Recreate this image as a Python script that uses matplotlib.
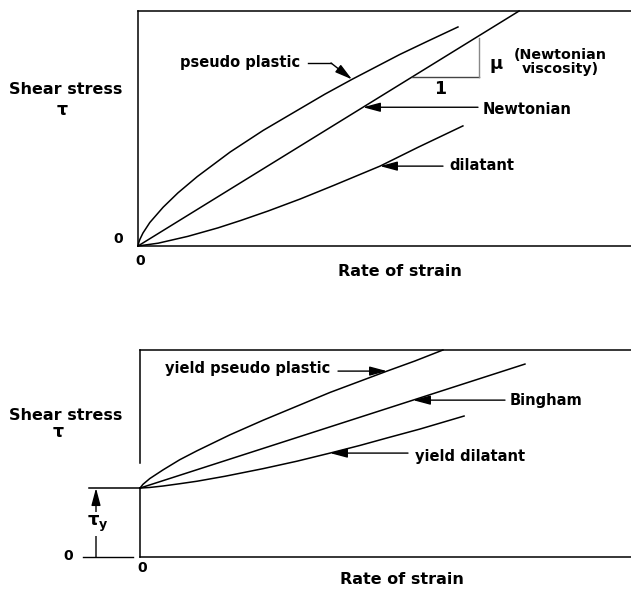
import numpy as np
from matplotlib import pyplot as plt
from matplotlib.lines import Line2D

# top chart: rate of strain vs shear stress (no yield)
rate_pseudo = [0, 0.02, 0.04, 0.10, 0.24, 0.51, 0.81, 1.20, 1.87, 2.54, 3.23, 3.79, 4.34, 5.31, 5.88, 6.49]
stress_pseudo = [0, 0.18, 0.29, 0.55, 1.00, 1.65, 2.26, 2.95, 4.00, 4.92, 5.77, 6.46, 7.09, 8.15, 8.72, 9.32]
rate_newton = [0, 7.73]
stress_newton = [0, 10.0]
rate_dilatant = [0, 0.41, 1.01, 1.62, 2.09, 2.64, 3.29, 3.96, 4.91, 5.68, 6.59]
stress_dilatant = [0, 0.12, 0.41, 0.77, 1.09, 1.49, 2.00, 2.57, 3.40, 4.20, 5.11]

# bottom chart: fluids with a yield stress
tau_yield = 3.33
rate_ypseudo = [0, 0.06, 0.20, 0.47, 0.81, 1.16, 1.83, 2.51, 3.20, 3.87, 5.03, 5.60, 6.17]
stress_ypseudo = [3.33, 3.51, 3.79, 4.21, 4.70, 5.13, 5.90, 6.61, 7.29, 7.95, 8.98, 9.47, 10.0]
rate_bingham = [0, 7.84]
stress_bingham = [3.33, 9.32]
rate_ydilatant = [0, 0.20, 0.47, 0.81, 1.16, 1.73, 2.51, 3.20, 3.87, 4.48, 5.03, 5.70, 6.60]
stress_ydilatant = [3.33, 3.36, 3.43, 3.54, 3.66, 3.90, 4.27, 4.63, 5.02, 5.39, 5.75, 6.18, 6.81]

W, H = 631, 589
BOLD = dict(fontweight='bold', family='DejaVu Sans', color='black')
ARROW = dict(arrowstyle='-|>,head_length=0.75,head_width=0.2',
             mutation_scale=14, lw=1.0, color='black', shrinkA=0, shrinkB=0)


def fx(px):
    return px / W


def fy(py):
    return 1 - py / H


def label(fig, px, py, s, size=10.5, ha='center', **kw):
    return fig.text(fx(px), fy(py), s, ha=ha, va='center', fontsize=size, **BOLD, **kw)


def setup_axes(ax):
    ax.set_xlim(0, 10)
    ax.set_ylim(0, 10)
    ax.set_xticks([])
    ax.set_yticks([])
    ax.spines['right'].set_visible(False)
    for s in ['left', 'top', 'bottom']:
        ax.spines[s].set_linewidth(1.1)


def h_arrow(ax, tip_x, xs, ys, tail_px, x0_px, scale):
    tip_y = np.interp(tip_x, xs, ys)
    tail_x = (tail_px - x0_px) / scale
    ax.annotate('', xy=(tip_x, tip_y), xytext=(tail_x, tip_y),
                arrowprops=ARROW, annotation_clip=False)


fig = plt.figure(figsize=(W / 100, H / 100), dpi=100)

# ---------------- top chart ----------------
ax1 = fig.add_axes([fx(138), fy(246), fx(631) - fx(138), fy(11) - fy(246)])
setup_axes(ax1)
lw = 1.1
ax1.plot(rate_pseudo, stress_pseudo, color='black', lw=lw, clip_on=False)
ax1.plot(rate_newton, stress_newton, color='black', lw=lw, clip_on=False)
ax1.plot(rate_dilatant, stress_dilatant, color='black', lw=lw, clip_on=False)

# slope triangle on the Newtonian line
tx0, tx1 = 5.56, 6.92
ty0 = np.interp(tx0, rate_newton, stress_newton)
ty1 = np.interp(tx1, rate_newton, stress_newton)
ax1.plot([tx0, tx1], [ty0, ty0], color='#444444', lw=1.0)
ax1.plot([tx1, tx1], [ty0, ty1 - 0.1], color='#888888', lw=1.0)

sx1 = 49.3
h_arrow(ax1, (363 - 138) / sx1, rate_newton, stress_newton, 478, 138, sx1)
h_arrow(ax1, (380 - 138) / sx1, rate_dilatant, stress_dilatant, 443, 138, sx1)

# bent leader for pseudo plastic
fig.add_artist(Line2D([fx(308), fx(331)], [fy(63), fy(63)], color='black', lw=1.0))
tip_x = (352 - 138) / sx1
ax1.annotate('', xy=(tip_x, np.interp(tip_x, rate_pseudo, stress_pseudo)),
             xytext=(fx(331), fy(63)), textcoords='figure fraction',
             arrowprops=ARROW)

label(fig, 66, 89, 'Shear stress', size=11.5)
label(fig, 62, 110, 'τ', size=12.5)
label(fig, 118, 239, '0', size=10)
label(fig, 140, 261, '0', size=10)
label(fig, 400, 272, 'Rate of strain', size=11.5)
label(fig, 180, 63, 'pseudo plastic', ha='left')
label(fig, 483, 109, 'Newtonian', ha='left')
label(fig, 449, 166, 'dilatant', ha='left')
label(fig, 496, 64, 'μ', size=13)
fig.text(fx(560), fy(62), '(Newtonian\nviscosity)', ha='center', va='center',
         fontsize=10.3, linespacing=0.95, **BOLD)
label(fig, 440, 89, '1', size=12.5)

# ---------------- bottom chart ----------------
ax2 = fig.add_axes([fx(140), fy(557), fx(631) - fx(140), fy(350) - fy(557)])
setup_axes(ax2)
ax2.spines['left'].set_visible(False)
sx2, sy2 = 49.1, 20.7
gap_top = (557 - 463) / sy2
ax2.plot([0, 0], [gap_top, 10], color='black', lw=1.1, clip_on=False)
ax2.plot([0, 0], [0, tau_yield], color='black', lw=1.1, clip_on=False)

ax2.plot(rate_ypseudo, stress_ypseudo, color='black', lw=lw, clip_on=False)
ax2.plot(rate_bingham, stress_bingham, color='black', lw=lw, clip_on=False)
ax2.plot(rate_ydilatant, stress_ydilatant, color='black', lw=lw, clip_on=False)

# yield stress level and its dimension arrow
ax2.plot([(89 - 140) / sx2, 0], [tau_yield, tau_yield], color='black', lw=1.1, clip_on=False)
ax2.plot([(83 - 140) / sx2, (133 - 140) / sx2], [0, 0], color='black', lw=1.0, clip_on=False)
ax_arrow_x = (96 - 140) / sx2
ax2.annotate('', xy=(ax_arrow_x, tau_yield), xytext=(ax_arrow_x, 0),
             arrowprops=ARROW, annotation_clip=False)
fig.text(fx(98), fy(524), r'$\mathbf{\tau_y}$', ha='center', va='center', fontsize=13,
         color='black', bbox=dict(facecolor='white', edgecolor='none', pad=1.0))

h_arrow(ax2, (413 - 140) / sx2, rate_bingham, stress_bingham, 505, 140, sx2)
h_arrow(ax2, (330 - 140) / sx2, rate_ydilatant, stress_ydilatant, 408, 140, sx2)
tip_x = (387 - 140) / sx2
tip_y = np.interp(tip_x, rate_ypseudo, stress_ypseudo)
ax2.annotate('', xy=(tip_x, tip_y), xytext=((338 - 140) / sx2, tip_y), arrowprops=ARROW)

label(fig, 66, 416, 'Shear stress', size=11.5)
label(fig, 58, 432, 'τ', size=12.5)
label(fig, 68, 556, '0', size=10)
label(fig, 142, 568, '0', size=10)
label(fig, 402, 580, 'Rate of strain', size=11.5)
label(fig, 165, 369, 'yield pseudo plastic', ha='left')
label(fig, 510, 401, 'Bingham', ha='left')
label(fig, 415, 456, 'yield dilatant', ha='left')

fig.savefig('out.png', dpi=100, facecolor='white')
